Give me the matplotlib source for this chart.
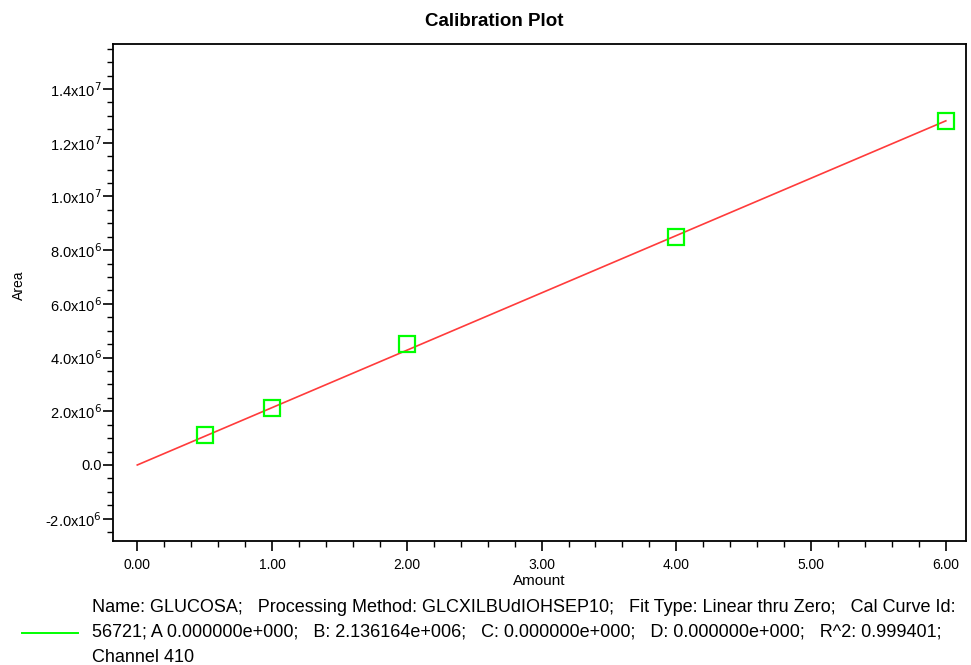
import numpy as np
import matplotlib.pyplot as plt
from matplotlib.ticker import MultipleLocator, FuncFormatter

plt.rcParams['font.family'] = ['Liberation Sans', 'DejaVu Sans']

# calibration standards (amount vs area)
amount = [0.5, 1.0, 2.0, 4.0, 6.0]
area = [1.12e6, 2.12e6, 4.51e6, 8.49e6, 12.81e6]

# linear fit thru zero
slope = 2.136164e6
fit_x = [0.0, 6.0]

legend_lines = [
    "Name: GLUCOSA;   Processing Method: GLCXILBUdIOHSEP10;   Fit Type: Linear thru Zero;   Cal Curve Id:",
    "56721; A 0.000000e+000;   B: 2.136164e+006;   C: 0.000000e+000;   D: 0.000000e+000;   R^2: 0.999401;",
    "Channel 410",
]

fig = plt.figure(figsize=(9.71, 6.65), dpi=100)
ax = fig.add_axes([0.1164, 0.1865, 0.8785, 0.7474])

ax.plot(fit_x, [slope * v for v in fit_x], color='#ff3b3b', lw=1.2, zorder=2)
ax.plot(amount, area, 's', ms=12, mfc='none', mec='#00ff00', mew=1.6, zorder=3)

ax.set_xlim(-0.18, 6.15)
ax.set_ylim(-2.83e6, 1.568e7)

ax.xaxis.set_major_locator(MultipleLocator(1))
ax.xaxis.set_minor_locator(MultipleLocator(0.2))
ax.yaxis.set_major_locator(MultipleLocator(2e6))
ax.yaxis.set_minor_locator(MultipleLocator(5e5))


def yfmt(v, pos):
    if abs(v) < 1:
        return '0.0'
    e = int(np.floor(np.log10(abs(v))))
    m = v / 10 ** e
    return r'%.1fx10$^{%d}$' % (m, e)


ax.yaxis.set_major_formatter(FuncFormatter(yfmt))
ax.xaxis.set_major_formatter(FuncFormatter(lambda v, p: '%.2f' % v))

ax.tick_params(which='major', length=7, width=1.2, labelsize=10, direction='out')
ax.tick_params(axis='y', labelsize=10.5, pad=1)
ax.tick_params(which='minor', length=4, width=1.0, direction='out')
ax.tick_params(axis='x', pad=5)
for s in ax.spines.values():
    s.set_linewidth(1.3)

ax.set_xlabel('Amount', fontsize=11, labelpad=2)
ax.set_ylabel('Area', fontsize=10)
ax.yaxis.set_label_coords(-0.102, 0.515)

fig.text(494 / 971, 1 - 22 / 665, 'Calibration Plot', ha='center', va='center',
         fontsize=13.5, fontweight='bold')

# legend below plot
fig.add_artist(plt.Line2D([22 / 971, 78 / 971], [1 - 633 / 665] * 2, color='#00ff00', lw=1.4))
for i, t in enumerate(legend_lines):
    fig.text(92 / 971, 1 - (607 + 25 * i) / 665, t, ha='left', va='center', fontsize=13)

fig.savefig('out.png', dpi=100)
